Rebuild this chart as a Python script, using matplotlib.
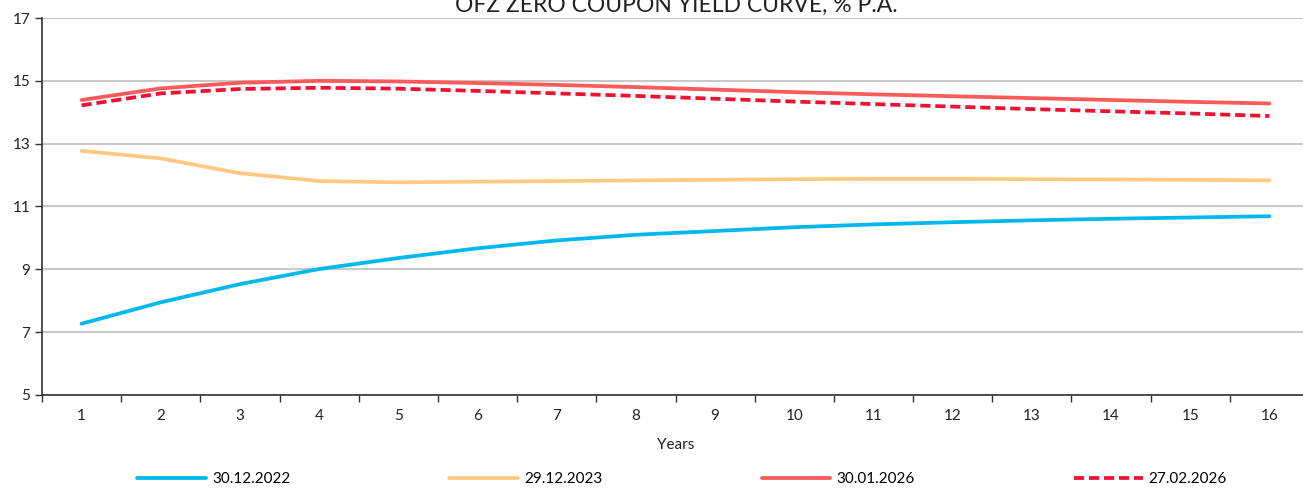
import numpy as np
import matplotlib.pyplot as plt

plt.rcParams['font.family'] = ['Lato', 'DejaVu Sans']

# Years to maturity
years = list(range(1, 17))

# Zero coupon yields, % p.a.
y_2022 = [7.27, 7.95, 8.53, 9.01, 9.36, 9.67, 9.92, 10.10, 10.22, 10.34,
          10.43, 10.50, 10.56, 10.61, 10.65, 10.69]
y_2023 = [12.77, 12.53, 12.06, 11.81, 11.77, 11.79, 11.81, 11.83, 11.85, 11.87,
          11.88, 11.88, 11.87, 11.86, 11.85, 11.83]
y_jan26 = [14.39, 14.76, 14.94, 15.00, 14.98, 14.93, 14.87, 14.80, 14.72, 14.64,
           14.57, 14.51, 14.45, 14.39, 14.33, 14.28]
y_feb26 = [14.22, 14.60, 14.74, 14.78, 14.75, 14.68, 14.60, 14.52, 14.43, 14.34,
           14.26, 14.18, 14.10, 14.03, 13.96, 13.88]

labels = ['30.12.2022', '29.12.2023', '30.01.2026', '27.02.2026']

W, H = 1303, 491
fig = plt.figure(figsize=(W / 100, H / 100), dpi=100)
# the plot area runs a bit past the right edge of the image
ax = fig.add_axes([42 / W, 1 - 395 / H, 1267 / W, (395 - 18) / H])

ax.plot(years, y_2022, color='#00B8EC', lw=2.7, solid_capstyle='round', label=labels[0])
ax.plot(years, y_2023, color='#FFC982', lw=2.7, solid_capstyle='round', label=labels[1])
ax.plot(years, y_jan26, color='#FF5A5A', lw=2.7, solid_capstyle='round', label=labels[2])
ax.plot(years, y_feb26, color='#EE1133', lw=2.7, ls=(0, (2.7, 1.3)), label=labels[3])

ax.set_xlim(0.5, 16.5)
ax.set_ylim(5, 17)
ax.set_yticks(np.arange(5, 18, 2))
ax.set_xticks(years)
ax.set_xticks(np.arange(0.5, 16.6, 1), minor=True)
ax.tick_params(axis='x', which='major', length=0, pad=10, labelsize=11, colors='#222222')
ax.tick_params(axis='x', which='minor', length=5, width=1, color='#333333')
ax.tick_params(axis='y', length=5, width=1, labelsize=11, color='#333333', labelcolor='#222222')

ax.grid(axis='y', color='#C8C8C8', lw=1.5)
ax.set_axisbelow(True)
for s in ['top', 'right']:
    ax.spines[s].set_visible(False)
ax.spines['left'].set_color('#333333')
ax.spines['bottom'].set_color('#333333')
ax.spines['left'].set_linewidth(1.2)
ax.spines['bottom'].set_linewidth(1.2)

ax.set_xlabel('Years', fontsize=11, color='#222222', labelpad=11)

# title is partly cut off at the top edge of the image
fig.text(676 / W, 1 - 12 / H, 'OFZ ZERO COUPON YIELD CURVE, % P.A.', ha='center', va='baseline',
         fontsize=16.5, color='#222222')

fig.legend(loc='center left', bbox_to_anchor=(137 / W, 1 - 479 / H, 1090 / W, 0.0), mode='expand',
           ncol=4, frameon=False, fontsize=11, handlelength=4.5, handletextpad=0.4,
           borderaxespad=0.0, borderpad=0.0)

fig.savefig('out.png', dpi=100)
